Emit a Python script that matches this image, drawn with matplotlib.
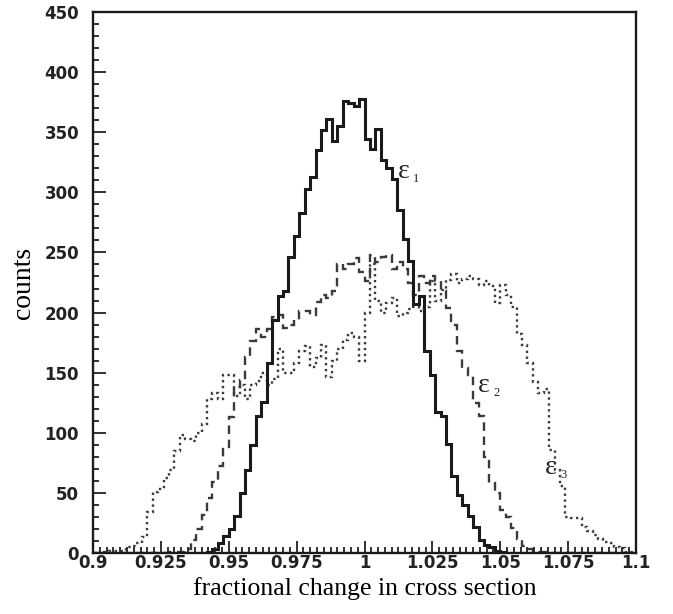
import matplotlib
matplotlib.use("Agg")
import matplotlib.pyplot as plt
from matplotlib.ticker import MultipleLocator
import matplotlib.transforms as mtransforms
import numpy as np

# 100 bins of width 0.002 between 0.9 and 1.1
x_lo, x_hi, n_bins = 0.9, 1.1, 100

eps1 = [0, 0, 0, 0, 0, 0, 0, 0, 0, 0,
        0, 0, 0, 0, 0, 0, 0, 0, 0, 0,
        0, 1, 3, 8, 14, 20, 31, 50, 69, 90,
        114, 126, 158, 194, 214, 218, 246, 264, 283, 303,
        313, 335, 352, 361, 343, 355, 376, 374, 372, 378,
        344, 336, 353, 327, 320, 311, 285, 261, 243, 207,
        214, 168, 148, 117, 114, 91, 64, 48, 40, 31,
        22, 11, 7, 5, 2, 1, 0, 0, 0, 0,
        0, 0, 0, 0, 0, 0, 0, 0, 0, 0,
        0, 0, 0, 0, 0, 0, 0, 0, 0, 0]

eps2 = [0, 0, 0, 0, 0, 0, 0, 0, 0, 0,
        0, 0, 0, 0, 1, 1, 1, 3, 11, 20,
        32, 46, 59, 72, 88, 113, 138, 144, 163, 176,
        186, 180, 186, 196, 198, 187, 190, 194, 201, 201,
        198, 209, 215, 212, 218, 240, 236, 240, 245, 234,
        226, 248, 242, 246, 248, 236, 242, 236, 225, 215,
        230, 225, 230, 226, 218, 204, 190, 168, 154, 148,
        125, 114, 80, 58, 50, 36, 30, 21, 12, 6,
        3, 2, 1, 1, 0, 0, 0, 0, 0, 0,
        0, 0, 0, 0, 0, 0, 0, 0, 0, 0]

eps3 = [0, 0, 1, 2, 2, 2, 5, 6, 8, 13,
        34, 51, 53, 62, 69, 85, 98, 95, 93, 100,
        107, 128, 133, 128, 148, 148, 131, 140, 128, 140,
        143, 150, 140, 145, 170, 150, 150, 158, 168, 172,
        155, 162, 173, 146, 160, 170, 177, 183, 180, 160,
        200, 240, 210, 200, 208, 212, 197, 200, 203, 205,
        201, 205, 226, 210, 219, 227, 232, 225, 228, 230,
        228, 223, 226, 222, 208, 223, 215, 205, 182, 173,
        158, 142, 133, 136, 86, 69, 56, 30, 29, 29,
        22, 18, 15, 12, 9, 8, 5, 4, 1, 1]

xtick_labels = ['0.9', '0.925', '0.95', '0.975', '1', '1.025', '1.05', '1.075', '1.1']

# curve labels: (x, y baseline) of the epsilon, subscript
curve_labels = [(1.0123, 312, '1'), (1.0418, 134, '2'), (1.0665, 66, '3')]

edges = np.linspace(x_lo, x_hi, n_bins + 1)

plt.rcParams['font.family'] = ['Liberation Serif', 'DejaVu Serif']

fig = plt.figure(figsize=(6.73, 6.14), dpi=100)
ax = fig.add_axes([93 / 673, 1 - 553 / 614, 543 / 673, 541 / 614])

ax.stairs(eps3, edges, color='#3a3a3a', linewidth=1.7, linestyle=(0, (1.0, 1.5)))
ax.stairs(eps2, edges, color='#3a3a3a', linewidth=1.7, linestyle=(0, (3.6, 2.4)))
ax.stairs(eps1, edges, color='#1a1a1a', linewidth=2.2)

ax.set_xlim(x_lo, x_hi)
ax.set_ylim(0, 450)

ax.xaxis.set_minor_locator(MultipleLocator(0.0025))
ax.yaxis.set_major_locator(MultipleLocator(50))
ax.yaxis.set_minor_locator(MultipleLocator(10))
ax.set_xticks(np.arange(len(xtick_labels)) * 0.025 + x_lo)
ax.set_xticklabels(xtick_labels)

ax.tick_params(which='both', direction='in', top=False, right=False, width=1.3, color='#222222')
ax.tick_params(which='major', length=9)
ax.tick_params(which='minor', length=4.5)
ax.tick_params(axis='x', pad=1)
ax.tick_params(axis='y', pad=10)
for lab in ax.get_xticklabels() + ax.get_yticklabels():
    lab.set_fontfamily('DejaVu Sans')
    lab.set_fontweight('bold')
    lab.set_fontsize(12)
    lab.set_color('#222222')

# nudge the y "0" label down-left like the original
ylab0 = ax.get_yticklabels()[0]
ylab0.set_transform(ylab0.get_transform() + mtransforms.ScaledTranslation(-2 / 100, -4 / 100, fig.dpi_scale_trans))

for s in ax.spines.values():
    s.set_linewidth(1.7)
    s.set_color('#1a1a1a')

ax.set_xlabel('fractional change in cross section', fontsize=18.5, labelpad=3)
ax.set_ylabel('counts', fontsize=20, labelpad=6)

for x, y, sub in curve_labels:
    ax.text(x, y, 'ε', fontsize=20, ha='left', va='baseline', color='#222222')
    ax.annotate(sub, xy=(x, y), xytext=(11, -3), textcoords='offset points',
                fontsize=9, ha='left', va='baseline', color='#222222')

fig.savefig('out.png', dpi=100)
